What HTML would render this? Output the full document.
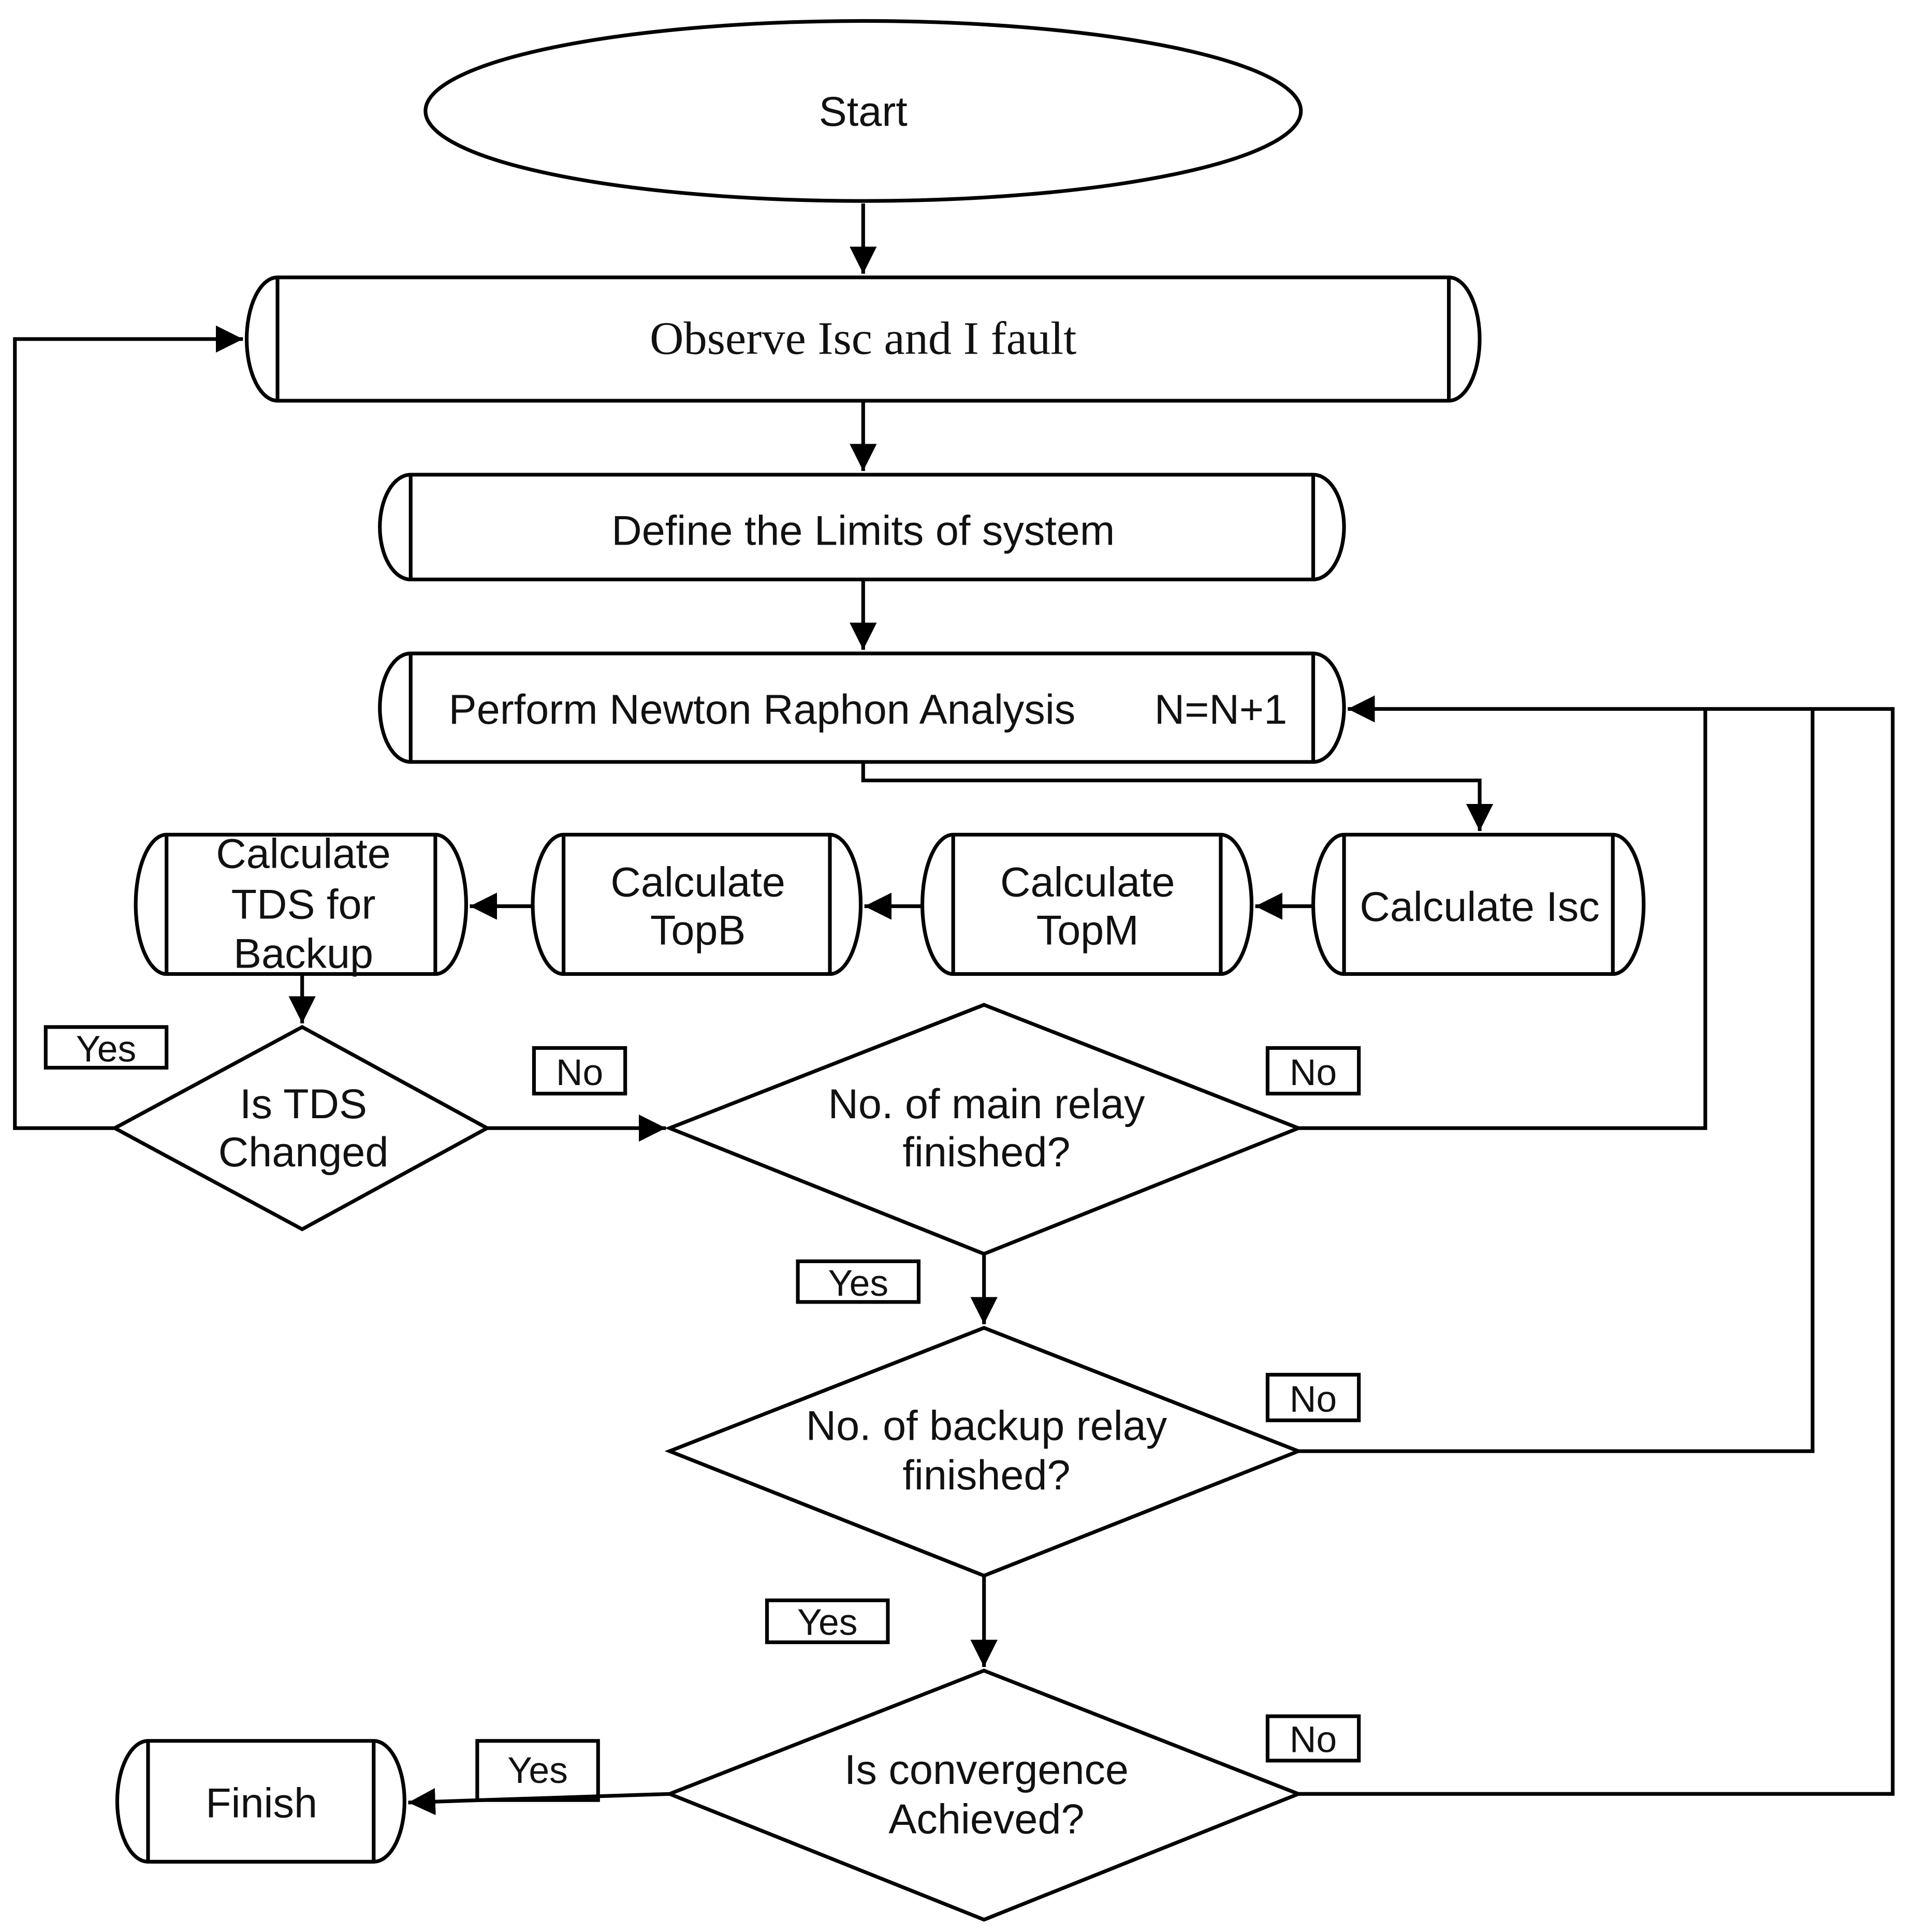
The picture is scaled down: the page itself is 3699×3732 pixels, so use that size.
<!DOCTYPE html>
<html><head><meta charset="utf-8"><style>
html,body{margin:0;padding:0;background:#fff}
svg{display:block}
text{font-family:"Liberation Sans",sans-serif;fill:#111}
</style></head><body>
<svg width="3699" height="3732" viewBox="0 0 1553 1567" xmlns="http://www.w3.org/2000/svg">
<defs>
<marker id="h" viewBox="0 0 10 10" refX="10" refY="5" markerWidth="22" markerHeight="22" orient="auto" markerUnits="userSpaceOnUse"><path d="M0,0 L10,5 L0,10 z" fill="#000"/></marker></defs>
<g fill="none" stroke="#000" stroke-width="3">
<ellipse cx="700" cy="90" rx="355" ry="73"/>
<path d="M225,225 H1175 A25,50 0 0 1 1175,325 H225 A25,50 0 0 1 225,225 Z"/><path d="M225,225V325M1175,225V325"/>
<path d="M333,385 H1065 A25,42.5 0 0 1 1065,470 H333 A25,42.5 0 0 1 333,385 Z"/><path d="M333,385V470M1065,385V470"/>
<path d="M333,530 H1065 A25,44 0 0 1 1065,618 H333 A25,44 0 0 1 333,530 Z"/><path d="M333,530V618M1065,530V618"/>
<path d="M1090,677 H1308 A25,56.5 0 0 1 1308,790 H1090 A25,56.5 0 0 1 1090,677 Z"/><path d="M1090,677V790M1308,677V790"/>
<path d="M773,677 H990 A25,56.5 0 0 1 990,790 H773 A25,56.5 0 0 1 773,677 Z"/><path d="M773,677V790M990,677V790"/>
<path d="M457,677 H673 A25,56.5 0 0 1 673,790 H457 A25,56.5 0 0 1 457,677 Z"/><path d="M457,677V790M673,677V790"/>
<path d="M135,677 H353 A25,56.5 0 0 1 353,790 H135 A25,56.5 0 0 1 135,677 Z"/><path d="M135,677V790M353,677V790"/>
<path d="M120,1412 H303 A25,49 0 0 1 303,1510 H120 A25,49 0 0 1 120,1412 Z"/><path d="M120,1412V1510M303,1412V1510"/>
<path d="M245,833 L395,915 L245,997 L93,915 Z"/>
<path d="M798,815 L1053,915 L798,1017 L543,915 Z"/>
<path d="M798,1077 L1053,1177 L798,1278 L543,1177 Z"/>
<path d="M798,1355 L1053,1455 L798,1557 L543,1455 Z"/>
<rect x="37" y="833" width="98" height="33"/>
<rect x="433" y="850" width="74" height="37"/>
<rect x="1028" y="850" width="74" height="37"/>
<rect x="647" y="1023" width="98" height="33"/>
<rect x="1028" y="1115" width="74" height="37"/>
<rect x="622" y="1298" width="98" height="34"/>
<rect x="1028" y="1392" width="74" height="36"/>
<rect x="387" y="1412" width="98" height="48"/>
<path d="M700,165V222" marker-end="url(#h)"/>
<path d="M700,325V382" marker-end="url(#h)"/>
<path d="M700,470V527" marker-end="url(#h)"/>
<path d="M700,618V633H1200V674" marker-end="url(#h)"/>
<path d="M1065,735H1018" marker-end="url(#h)"/>
<path d="M748,735H701" marker-end="url(#h)"/>
<path d="M432,735H381" marker-end="url(#h)"/>
<path d="M245,790V830" marker-end="url(#h)"/>
<path d="M93,915H12V275H197" marker-end="url(#h)"/>
<path d="M395,915H540" marker-end="url(#h)"/>
<path d="M1053,915H1383V575"/>
<path d="M1053,1177H1470V575"/>
<path d="M1053,1455H1535V575H1093" marker-end="url(#h)"/>
<path d="M798,1017V1074" marker-end="url(#h)"/>
<path d="M798,1278V1352" marker-end="url(#h)"/>
<path d="M543,1455L331,1462" marker-end="url(#h)"/>
</g>
<g font-size="34" text-anchor="middle">
<text x="700" y="102">Start</text>
<text x="700" y="287" style="font-family:'Liberation Serif',serif" font-size="38">Observe Isc and I fault</text>
<text x="700" y="442">Define the Limits of  system</text>
<text x="618" y="587">Perform Newton Raphon Analysis</text>
<text x="990" y="587">N=N+1</text>
<text x="1200" y="747">Calculate Isc</text>
<text x="882" y="727">Calculate</text><text x="882" y="766">TopM</text>
<text x="566" y="727">Calculate</text><text x="566" y="766">TopB</text>
<text x="246" y="704">Calculate</text><text x="246" y="745">TDS for</text><text x="246" y="785">Backup</text>
<text x="246" y="907">Is TDS</text><text x="246" y="946">Changed</text>
<text x="800" y="907">No. of main relay</text><text x="800" y="946">finished?</text>
<text x="800" y="1168">No. of backup relay</text><text x="800" y="1208">finished?</text>
<text x="800" y="1447">Is convergence</text><text x="800" y="1487">Achieved?</text>
<text x="212" y="1474">Finish</text>
<text x="86" y="861" font-size="30">Yes</text>
<text x="470" y="880" font-size="30">No</text>
<text x="1065" y="880" font-size="30">No</text>
<text x="696" y="1051" font-size="30">Yes</text>
<text x="1065" y="1145" font-size="30">No</text>
<text x="671" y="1326" font-size="30">Yes</text>
<text x="1065" y="1421" font-size="30">No</text>
<text x="436" y="1446" font-size="30">Yes</text>
</g>
</svg>
</body></html>
